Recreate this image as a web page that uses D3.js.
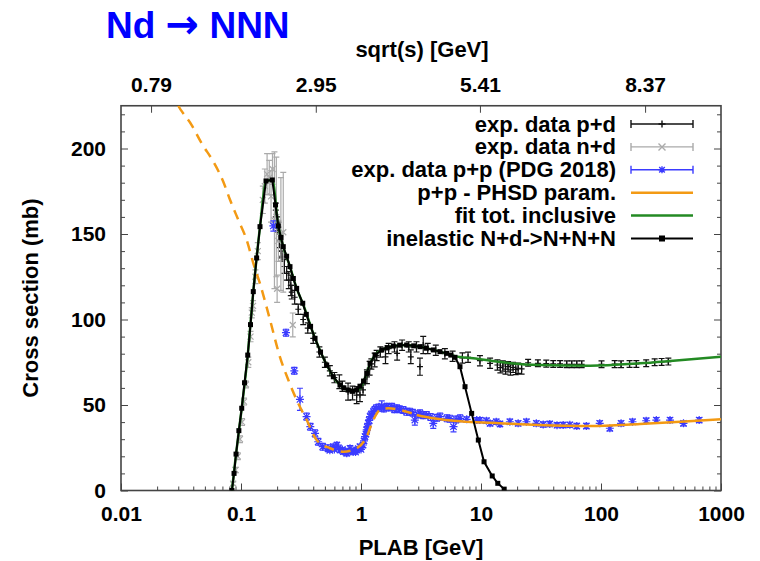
<!DOCTYPE html>
<html>
<head>
<meta charset="utf-8">
<script src="https://cdn.jsdelivr.net/npm/d3@7"></script>
<style>
body { margin: 0; background: #fff; }
text { font-family: "Liberation Sans", Arial, sans-serif; font-weight: bold; }
</style>
</head>
<body>
<div id="chart-area"></div>
<script>
// axis ticks
var xTicks = [0.01, 0.1, 1, 10, 100, 1000];
var xTickLabels = ["0.01", "0.1", "1", "10", "100", "1000"];
var yTicks = [0, 50, 100, 150, 200];
var topTicks = [0.0178, 0.42, 9.8, 233];
var topTickLabels = ["0.79", "2.95", "5.41", "8.37"];

// exp. data p+d : [plab, sigma, error]
var pdData = [
    [0.195,164,4],[0.2,156,4],[0.205,154,3],[0.21,146,4],[0.215,140,4],[0.22,137,3],
    [0.23,131,4],[0.24,127,4],[0.25,123,5],[0.26,120,6],[0.265,116,4],[0.28,113,4],
    [0.3,106,3],[0.33,100,3],[0.36,95,3],[0.4,89,3],[0.45,81,3],[0.5,75,3],[0.55,70,3],
    [0.6,66,3],[0.66,63.6,4],[0.7,61,3],[0.78,57.8,5],[0.85,57,4],[0.92,55.8,5],[0.98,56,4],
    [1.04,58.8,3],[1.12,66.5,4],[1.18,71.5,4],[1.22,74,3],[1.3,76.3,4],[1.35,79,3],
    [1.45,81,3],[1.6,78.2,4],[1.7,83,3],[1.9,84,3],[2.0,80.2,4],[2.2,85,3],[2.5,84,3],
    [2.6,78.2,4],[2.9,84,3],[3.1,72.4,5],[3.3,85.1,5],[3.6,83,3],[4.2,82,3],[5.0,80,3],
    [5.8,78.5,3],[7.0,77.5,3],[7.8,77.9,3],[9.8,75.9,3],[11.9,74.4,3],[13.7,73.4,3],
    [14.5,71.8,3],[15.2,72.8,3],[16.0,71,3],[16.8,72.4,3],[17.6,70.5,3],[18.5,72.0,3],
    [19.5,70.8,3],[20.4,71.5,3],[21.8,71.1,3],[24.7,74.7,2],[29.8,74.4,2],[35,74.2,2],
    [40,74,2],[45.6,74,2],[51.8,73.8,2],[57,73.8,2],[62.8,73.8,2],[69,73.8,2],[101,73.8,2],
    [130,73.9,2],[147,73.8,2],[173,74,2],[197,74,2],[238,74.4,2],[280,75,2],[320,75.2,2],
    [364,75.4,2]
];

// exp. data n+d
var ndData = [
    [0.086,4,1],[0.09,12,1.5],[0.094,20,2],[0.098,30,2],[0.102,40,2],[0.106,52,2],
    [0.11,62,2],[0.115,75,3],[0.12,90,3],[0.123,104,3],[0.126,108,3],[0.132,125,4],
    [0.138,140,5],[0.152,170,8],[0.158,178,10],[0.165,185,12],[0.172,183,10],
    [0.178,172,15],[0.183,188,9],[0.19,158,40],[0.197,160,35],[0.2,118,8],
    [0.205,146,12],[0.215,150,33],[0.225,151,35],[0.27,96.8,7]
];

// exp. data p+p (PDG 2018)
var ppData = [
    [0.186,154.7,3],[0.237,92.3,2],[0.278,70,2],[0.31,53.3,6.5],[0.352,43.2,2],
    [0.378,37.3,2],[0.414,33.4,2],[0.44,28.5,2],[0.48,25.6,2],[0.53,24.7,2],
    [0.55,23.5,1],[0.587,25.6,1.5],[0.6,24,1],[0.63,26.6,1.5],[0.65,25,1],[0.668,23.7,1.5],
    [0.7,24,1],[0.712,22.7,1.5],[0.74,23,1],[0.76,21.8,1.5],[0.78,22.5,1],[0.81,24.7,1.5],
    [0.84,23,1],[0.865,22.7,1.5],[0.9,22.5,1],[0.92,23.7,1.5],[0.95,24.5,1],[0.98,25.6,1.5],
    [1.0,24,1],[1.04,26.6,1.5],[1.06,29,1.5],[1.08,31.5,1.5],[1.1,33,1.5],[1.116,35.4,2],
    [1.13,37,2],[1.15,39.3,2],[1.17,41,2],[1.19,43.2,2],[1.22,44.5,2],[1.27,46.1,2],
    [1.3,47,2],[1.34,48.1,2],[1.4,48.5,2],[1.49,49.4,3],[1.55,48,2],[1.64,49,2],[1.7,48.5,2],
    [1.81,49,2],[1.9,47.5,2],[1.99,48.1,2],[2.1,47.5,2],[2.25,47.1,2],[2.4,46,2],[2.55,46.1,2],
    [2.7,45.5,2],[2.81,41.2,3],[3.0,44.5,2],[3.1,45.1,2],[3.3,44,2],[3.52,44.2,2],[3.8,43,2],
    [4.0,39.3,3],[4.3,42.5,2],[4.56,43.2,2],[5.2,42.2,2],[5.5,42,2],[5.9,37.3,3],[6.2,41.5,2],
    [6.7,42.2,2],[7.6,41.6,1.5],[9.2,41.2,1.5],[9.8,41.2,1.5],[11.1,40.8,1.5],[11.9,39.3,1.5],
    [13.4,40.2,1.5],[14.4,38.9,1.5],[17.4,40.2,1.5],[20.4,39.3,1.5],[23.9,40.2,1.5],
    [28.9,39.3,1.5],[33,38.6,1.5],[37.4,38.9,1.5],[43,38.2,1.5],[48.4,38.3,1.5],[55,38.4,1.5],
    [62.8,37.7,1.5],[75.5,37.7,1.5],[97.6,39.3,1.5],[118.5,36.4,1.5],[147,39.3,1.5],
    [183,40.2,1.5],[238,40.8,1.5],[289,41.2,1.5],[376,41.2,1.5],[487,39.3,1.5],[658,41.2,1.5]
];

// p+p - PHSD param.
var ppParam = [
    [0.026,234],[0.030,225],[0.0388,213.7],[0.047,203],[0.0588,192.3],[0.0712,180.6],
    [0.081,170],[0.095,158.2],[0.1115,146.5],[0.1266,133],[0.144,121],[0.1746,99.7],
    [0.211,78.2],[0.248,64.6],[0.300,51],[0.353,41.2],[0.427,29.5],[0.552,24.7],
    [0.712,22.7],[0.921,24.7],[1.116,31.5],[1.266,41.2],[1.44,47.1],[1.69,48.1],
    [2.11,47.1],[2.91,44.2],[4.0,42.2],[7.6,40.2],[14.4,39.3],[30,38.3],[81,37.7],
    [211,38.9],[500,40.3],[1000,41.6]
];

// fit tot. inclusive
var fitTot = [
    [0.084,0],[0.0909,21.3],[0.1014,48.1],[0.1138,79.2],[0.1266,116.3],[0.144,154.3],
    [0.1616,181],[0.1823,181.6],[0.2046,154.7],[0.225,142.6],[0.256,130.9],[0.291,118.2],
    [0.327,109.5],[0.414,89],[0.518,73.4],[0.588,66.5],[0.668,61.7],[0.784,58.8],
    [0.92,58.5],[1.0,60.5],[1.116,68.5],[1.19,74.4],[1.31,79.2],[1.49,82.2],[1.86,84.5],
    [2.4,85.1],[3.1,84.1],[4.0,82.2],[5.17,80.2],[6.07,78.6],[8.6,77.3],[16.4,74.7],
    [31,73.4],[81,73],[211,74.4],[400,75.9],[1000,78.2]
];

// inelastic N+d->N+N+N
var inelData = [
    [0.084,0],[0.0875,10],[0.0909,21.3],[0.096,35],[0.1014,48.1],[0.107,63],[0.1138,79.2],
    [0.12,97],[0.1266,116.3],[0.135,136],[0.144,154.3],[0.1616,181],[0.1823,181.6],
    [0.194,167],[0.2046,154.7],[0.215,148],[0.225,142.6],[0.24,137],[0.256,130.9],
    [0.273,124],[0.291,118.2],[0.327,109.5],[0.35,103],[0.38,96],[0.414,89],[0.46,81],
    [0.518,73.4],[0.588,66.5],[0.668,61.7],[0.72,60],[0.784,58.8],[0.85,58.2],[0.921,58.8],
    [0.98,61],[1.05,64],[1.116,68.5],[1.19,74.4],[1.31,79.2],[1.49,82.2],[1.65,83.6],
    [1.86,84.5],[2.1,85],[2.4,85.1],[2.75,84.6],[3.1,84.1],[3.5,83.2],[4.0,82.2],[4.55,81.2],
    [5.17,80.2],[5.6,79.2],[6.07,77.9],[6.68,72.4],[7.36,60.7],[8.36,45.1],[9.5,29.5],
    [10.6,16.8],[12.4,8.5],[13.8,4.2],[15.6,0.8]
];

var legendLabels = ["exp. data p+d", "exp. data n+d", "exp. data p+p (PDG 2018)",
    "p+p - PHSD param.", "fit tot. inclusive", "inelastic N+d->N+N+N"];

var colPD = "#111", colND = "#aaaaaa", colPP = "#3b3bff",
    colOr = "#f39a14", colGr = "#238a23", colIn = "#000";

var svg = d3.select("#chart-area")
    .append("svg")
    .attr("width", 760)
    .attr("height", 561);

var x = d3.scaleLog().domain([0.01, 1000]).range([121, 721]);
var y = d3.scaleLinear().domain([0, 225]).range([490.5, 105.75]);

svg.append("clipPath").attr("id", "clip")
    .append("rect")
    .attr("x", 121).attr("y", 105.75)
    .attr("width", 600).attr("height", 384.75);

// ---- axes (ticks inward, like gnuplot)
var xMinor = [];
xTicks.slice(0, -1).forEach(function(d) {
    for (var k = 2; k <= 9; k++) xMinor.push(d * k);
});
var yMinor = d3.range(0, 226, 10).filter(function(d) { return d % 50 !== 0; });

function styleAxis(g) {
    g.select(".domain").remove();
    g.selectAll("line").attr("stroke", "#444").attr("stroke-width", 1);
    g.selectAll("text").attr("fill", "#000").style("font-size", "21px");
}

svg.append("g").attr("transform", "translate(0,490.5)")
    .call(d3.axisBottom(x).tickValues(xTicks).tickSize(-7).tickPadding(16)
        .tickFormat(function(d, i) { return xTickLabels[i]; }))
    .call(styleAxis);
svg.append("g").attr("transform", "translate(0,490.5)")
    .call(d3.axisBottom(x).tickValues(xMinor).tickSize(-4).tickFormat(""))
    .call(styleAxis);

svg.append("g").attr("transform", "translate(0,105.75)")
    .call(d3.axisTop(x).tickValues(topTicks).tickSize(-7).tickPadding(14)
        .tickFormat(function(d, i) { return topTickLabels[i]; }))
    .call(styleAxis);

svg.append("g").attr("transform", "translate(121,0)")
    .call(d3.axisLeft(y).tickValues(yTicks).tickSize(-7).tickPadding(15))
    .call(styleAxis);
svg.append("g").attr("transform", "translate(121,0)")
    .call(d3.axisLeft(y).tickValues(yMinor).tickSize(-4).tickFormat(""))
    .call(styleAxis);
svg.append("g").attr("transform", "translate(721,0)")
    .call(d3.axisRight(y).tickValues(yTicks).tickSize(-7).tickFormat(""))
    .call(styleAxis);
svg.append("g").attr("transform", "translate(721,0)")
    .call(d3.axisRight(y).tickValues(yMinor).tickSize(-4).tickFormat(""))
    .call(styleAxis);

// frame
svg.append("rect")
    .attr("x", 121).attr("y", 105.75)
    .attr("width", 600).attr("height", 384.75)
    .attr("fill", "none").attr("stroke", "#444").attr("stroke-width", 1.6);

// titles
var title = svg.append("text").attr("x", 106).attr("y", 38)
    .attr("fill", "#0000ff").style("font-size", "37px");
title.append("tspan").text("Nd ");
title.append("tspan").style("font-family", "'DejaVu Sans'").style("font-size", "40px")
    .text("\u2192");
title.append("tspan").text(" NNN");

svg.append("text").attr("x", 422).attr("y", 57).attr("text-anchor", "middle")
    .style("font-size", "22px").text("sqrt(s) [GeV]");
svg.append("text").attr("x", 421).attr("y", 555).attr("text-anchor", "middle")
    .style("font-size", "22px").text("PLAB [GeV]");
svg.append("text").attr("transform", "translate(38,298) rotate(-90)")
    .attr("text-anchor", "middle")
    .style("font-size", "22px").text("Cross section (mb)");

// ---- markers
function markerPath(type, s) {
    var plus = "M" + (-s) + ",0H" + s + "M0," + (-s) + "V" + s;
    var c = s * 0.8;
    var cross = "M" + (-c) + "," + (-c) + "L" + c + "," + c + "M" + (-c) + "," + c + "L" + c + "," + (-c);
    if (type === "plus") return plus;
    if (type === "cross") return "M" + (-s) + "," + (-s) + "L" + s + "," + s + "M" + (-s) + "," + s + "L" + s + "," + (-s);
    return plus + cross;
}

var plot = svg.append("g").attr("clip-path", "url(#clip)");

function drawPoints(data, color, type, size) {
    var g = plot.append("g").attr("stroke", color).attr("stroke-width", 1.2).attr("fill", "none");
    g.selectAll("line.bar").data(data).enter().append("line")
        .attr("x1", function(d) { return x(d[0]); })
        .attr("x2", function(d) { return x(d[0]); })
        .attr("y1", function(d) { return y(d[1] - d[2]); })
        .attr("y2", function(d) { return y(d[1] + d[2]); });
    [-1, 1].forEach(function(sgn) {
        g.selectAll("line.cap" + sgn).data(data).enter().append("line")
            .attr("x1", function(d) { return x(d[0]) - 3; })
            .attr("x2", function(d) { return x(d[0]) + 3; })
            .attr("y1", function(d) { return y(d[1] + sgn * d[2]); })
            .attr("y2", function(d) { return y(d[1] + sgn * d[2]); });
    });
    g.selectAll("path").data(data).enter().append("path")
        .attr("transform", function(d) { return "translate(" + x(d[0]) + "," + y(d[1]) + ")"; })
        .attr("d", markerPath(type, size));
}

drawPoints(pdData, colPD, "plus", 3);
drawPoints(ndData, colND, "cross", 3);
drawPoints(ppData, colPP, "star", 4);

var smooth = d3.line()
    .x(function(d) { return x(d[0]); })
    .y(function(d) { return y(d[1]); })
    .curve(d3.curveMonotoneX);

plot.append("path")
    .datum(ppParam.filter(function(d) { return d[0] <= 2.91; }))
    .attr("d", smooth)
    .attr("fill", "none").attr("stroke", colOr).attr("stroke-width", 2.5)
    .attr("stroke-dasharray", "10,7");
plot.append("path")
    .datum(ppParam.filter(function(d) { return d[0] >= 2.91; }))
    .attr("d", smooth)
    .attr("fill", "none").attr("stroke", colOr).attr("stroke-width", 2.5);

plot.append("path")
    .datum(fitTot)
    .attr("d", smooth)
    .attr("fill", "none").attr("stroke", colGr).attr("stroke-width", 2.5);

var straight = d3.line()
    .x(function(d) { return x(d[0]); })
    .y(function(d) { return y(d[1]); });

plot.append("path")
    .datum(inelData)
    .attr("d", straight)
    .attr("fill", "none").attr("stroke", colIn).attr("stroke-width", 2);
plot.selectAll("rect.sq").data(inelData).enter().append("rect")
    .attr("x", function(d) { return x(d[0]) - 2.5; })
    .attr("y", function(d) { return y(d[1]) - 2.5; })
    .attr("width", 5).attr("height", 5)
    .attr("fill", colIn);

// ---- legend
var legX1 = 631, legX2 = 693, legMid = 662;
var legend = svg.append("g");
legendLabels.forEach(function(label, i) {
    var ly = 124 + i * 22.9;
    legend.append("text").attr("x", 616).attr("y", ly + 7.5)
        .attr("text-anchor", "end").style("font-size", "22px").text(label);
    var color = [colPD, colND, colPP, colOr, colGr, colIn][i];
    var g = legend.append("g").attr("stroke", color).attr("fill", "none");
    g.append("line").attr("x1", legX1).attr("x2", legX2).attr("y1", ly).attr("y2", ly)
        .attr("stroke-width", i < 3 ? 1.4 : 2.5);
    if (i < 3) {
        [legX1, legX2].forEach(function(xx) {
            g.append("line").attr("x1", xx).attr("x2", xx)
                .attr("y1", ly - 4).attr("y2", ly + 4).attr("stroke-width", 1.4);
        });
        g.append("path").attr("transform", "translate(" + legMid + "," + ly + ")")
            .attr("d", markerPath(["plus", "cross", "star"][i], 3.5)).attr("stroke-width", 1.4);
    }
    if (i === 5) {
        g.select("line").attr("stroke-width", 2);
        g.append("rect").attr("x", legMid - 3).attr("y", ly - 3)
            .attr("width", 6).attr("height", 6).attr("fill", colIn).attr("stroke", "none");
    }
});
</script>
</body>
</html>
